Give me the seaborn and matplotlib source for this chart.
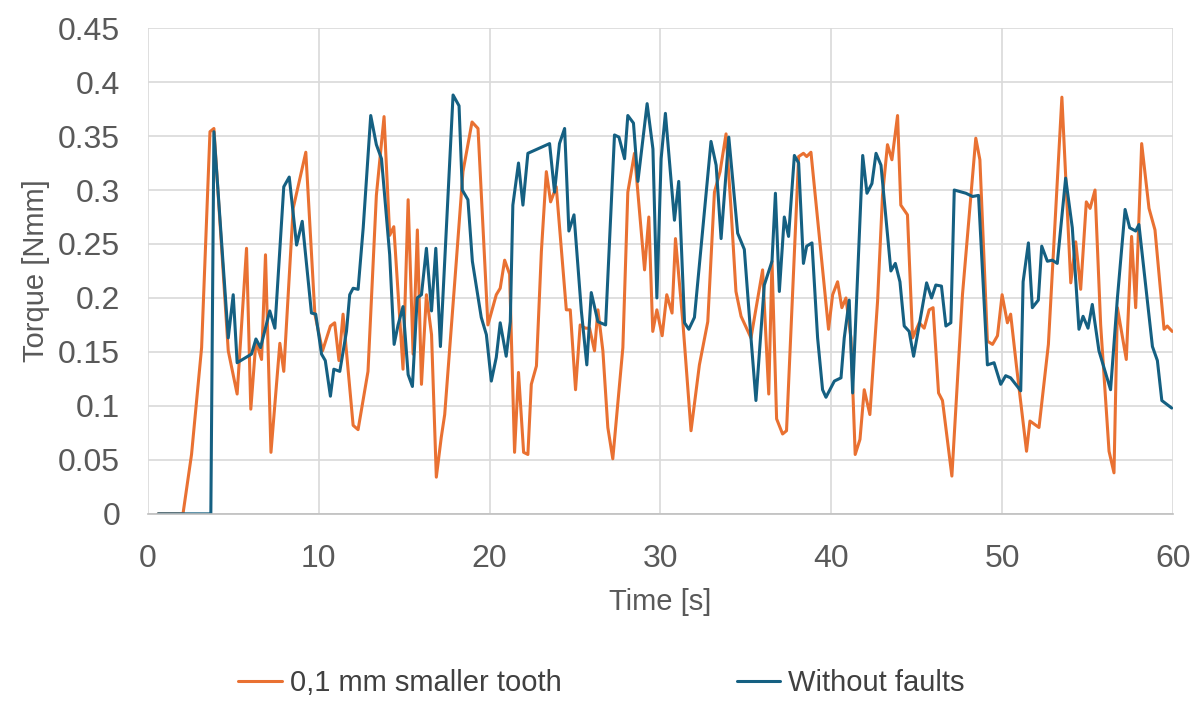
import matplotlib
matplotlib.use('Agg')
import matplotlib.pyplot as plt
import seaborn as sns
import pandas as pd
from matplotlib.lines import Line2D

sns.set_style("white")
plt.rcParams['font.family'] = ['Liberation Sans', 'DejaVu Sans']

# 0,1 mm smaller tooth
t_fault = [0.6, 2.05, 2.55, 3.14, 3.63, 3.86, 4.70, 5.22, 5.77, 6.02, 6.32, 6.65, 6.88, 7.2, 7.72, 7.95,
           8.5, 9.24, 9.77, 10.22, 10.68, 10.93, 11.18, 11.42, 12.01, 12.3, 12.88, 13.37, 13.82, 14.15,
           14.39, 14.93, 15.23, 15.52, 15.77, 16.01, 16.3, 16.6, 16.88, 17.17, 17.37, 18.05, 18.44, 18.97,
           19.32, 19.9, 20.39, 20.62, 20.88, 21.17, 21.46, 21.69, 21.99, 22.24, 22.44, 22.74, 23.03, 23.32,
           23.57, 23.9, 24.49, 24.72, 25.03, 25.3, 25.61, 25.85, 26.14, 26.34, 26.63, 26.92, 27.21, 27.8,
           28.09, 28.48, 29.07, 29.32, 29.55, 29.79, 30.1, 30.37, 30.68, 30.88, 31.31, 31.79, 32.28, 32.77,
           33.16, 33.49, 33.84, 34.13, 34.42, 34.72, 35.3, 35.98, 36.34, 36.53, 36.8, 37.15, 37.38, 38.09,
           38.37, 38.56, 38.81, 39.84, 40.08, 40.37, 40.62, 40.86, 41.15, 41.4, 41.68, 41.93, 42.26, 42.71,
           43.0, 43.29, 43.55, 43.88, 44.07, 44.46, 44.76, 45.15, 45.44, 45.73, 45.96, 46.28, 46.51, 47.06,
           47.68, 48.46, 48.7, 49.14, 49.44, 49.73, 50.0, 50.31, 50.5, 50.84, 51.43, 51.63, 52.16, 52.71,
           53.5, 54.02, 54.31, 54.6, 54.93, 55.15, 55.44, 55.77, 56.26, 56.55, 56.75, 57.27, 57.58, 57.82,
           58.17, 58.6, 58.95, 59.48, 59.67, 59.96]
v_fault = [0, 0, 0.055, 0.154, 0.354, 0.357, 0.151, 0.111, 0.246, 0.097, 0.16, 0.143, 0.24, 0.057, 0.158, 0.132,
           0.283, 0.335, 0.185, 0.151, 0.174, 0.177, 0.142, 0.185, 0.082, 0.078, 0.132, 0.295, 0.368, 0.258,
           0.266, 0.134, 0.291, 0.148, 0.263, 0.12, 0.203, 0.166, 0.034, 0.071, 0.092, 0.234, 0.317, 0.363,
           0.357, 0.175, 0.203, 0.209, 0.235, 0.222, 0.057, 0.131, 0.057, 0.055, 0.12, 0.137, 0.243, 0.317,
           0.289, 0.303, 0.189, 0.189, 0.115, 0.175, 0.172, 0.172, 0.151, 0.189, 0.151, 0.08, 0.051, 0.154,
           0.298, 0.334, 0.226, 0.275, 0.169, 0.189, 0.165, 0.203, 0.186, 0.255, 0.178, 0.077, 0.138, 0.178,
           0.298, 0.317, 0.352, 0.283, 0.206, 0.183, 0.163, 0.226, 0.111, 0.234, 0.088, 0.074, 0.077, 0.331,
           0.334, 0.331, 0.335, 0.171, 0.203, 0.215, 0.191, 0.2, 0.163, 0.055, 0.069, 0.115, 0.092, 0.197,
           0.295, 0.342, 0.328, 0.369, 0.286, 0.277, 0.163, 0.177, 0.172, 0.189, 0.191, 0.112, 0.105, 0.035,
           0.203, 0.348, 0.328, 0.16, 0.157, 0.165, 0.203, 0.177, 0.185, 0.137, 0.058, 0.086, 0.08, 0.157,
           0.386, 0.214, 0.252, 0.208, 0.289, 0.283, 0.3, 0.175, 0.058, 0.038, 0.191, 0.143, 0.257, 0.191,
           0.343, 0.283, 0.263, 0.171, 0.174, 0.169]

# Without faults
t_ok = [0.6, 3.68, 3.86, 4.70, 4.99, 5.22, 6.06, 6.32, 6.59, 7.13, 7.43, 7.95, 8.27, 8.7, 9.03, 9.57, 9.82,
        10.16, 10.38, 10.68, 10.88, 11.23, 11.62, 11.81, 12.01, 12.3, 12.6, 13.04, 13.37, 13.67, 14.15, 14.41,
        14.64, 14.93, 15.23, 15.48, 15.76, 16.01, 16.3, 16.6, 16.85, 17.12, 17.86, 18.21, 18.4, 18.73, 18.99,
        19.51, 19.81, 20.1, 20.39, 20.62, 20.97, 21.21, 21.36, 21.69, 21.95, 22.24, 23.51, 23.8, 24.09, 24.39,
        24.64, 24.94, 25.37, 25.69, 25.95, 26.34, 26.79, 27.31, 27.57, 27.9, 28.09, 28.42, 28.68, 29.22, 29.56,
        29.79, 30.04, 30.29, 30.82, 31.07, 31.41, 31.66, 31.99, 32.96, 33.26, 33.55, 34.0, 34.52, 34.91, 35.3,
        35.59, 36.08, 36.53, 36.73, 36.96, 37.25, 37.5, 37.84, 38.09, 38.37, 38.56, 38.87, 39.2, 39.49, 39.69,
        40.18, 40.57, 40.76, 41.05, 41.25, 41.84, 42.09, 42.38, 42.62, 42.91, 43.49, 43.75, 44.02, 44.27, 44.56,
        44.82, 45.15, 45.58, 45.87, 46.12, 46.45, 46.71, 47.0, 47.2, 47.88, 48.27, 48.62, 49.14, 49.53, 49.92,
        50.21, 50.5, 51.09, 51.23, 51.54, 51.77, 52.12, 52.32, 52.65, 52.94, 53.23, 53.72, 54.11, 54.5, 54.74,
        55.03, 55.28, 55.67, 56.35, 56.75, 57.2, 57.47, 57.82, 58.01, 58.8, 59.09, 59.35, 59.93]
v_ok = [0, 0, 0.354, 0.163, 0.203, 0.14, 0.148, 0.162, 0.154, 0.188, 0.172, 0.303, 0.312, 0.249, 0.271, 0.186, 0.185,
        0.148, 0.142, 0.109, 0.134, 0.132, 0.169, 0.203, 0.209, 0.208, 0.265, 0.369, 0.342, 0.329, 0.24, 0.157,
        0.175, 0.192, 0.129, 0.118, 0.2, 0.203, 0.246, 0.188, 0.246, 0.155, 0.388, 0.378, 0.3, 0.291, 0.234,
        0.182, 0.166, 0.123, 0.145, 0.177, 0.146, 0.178, 0.286, 0.325, 0.286, 0.334, 0.343, 0.298, 0.343, 0.357,
        0.262, 0.277, 0.188, 0.138, 0.205, 0.178, 0.175, 0.351, 0.349, 0.329, 0.369, 0.362, 0.308, 0.38, 0.338,
        0.2, 0.329, 0.371, 0.272, 0.308, 0.177, 0.171, 0.182, 0.345, 0.323, 0.255, 0.349, 0.26, 0.245, 0.163,
        0.105, 0.212, 0.234, 0.297, 0.206, 0.275, 0.257, 0.332, 0.325, 0.232, 0.248, 0.251, 0.163, 0.115, 0.108,
        0.123, 0.126, 0.163, 0.198, 0.112, 0.332, 0.297, 0.306, 0.334, 0.323, 0.225, 0.232, 0.215, 0.174, 0.169,
        0.146, 0.175, 0.214, 0.2, 0.212, 0.211, 0.174, 0.177, 0.3, 0.297, 0.294, 0.295, 0.138, 0.14, 0.12,
        0.128, 0.126, 0.114, 0.215, 0.251, 0.191, 0.198, 0.248, 0.234, 0.235, 0.232, 0.311, 0.265, 0.171, 0.183,
        0.172, 0.194, 0.151, 0.115, 0.2, 0.282, 0.265, 0.262, 0.268, 0.155, 0.142, 0.105, 0.098]

series_names = ['0,1 mm smaller tooth', 'Without faults']
colors = {'0,1 mm smaller tooth': '#E97132', 'Without faults': '#156082'}
ytick_labels = ['0', '0.05', '0.1', '0.15', '0.2', '0.25', '0.3', '0.35', '0.4', '0.45']

df = pd.concat([
    pd.DataFrame({'time': t_fault, 'torque': v_fault, 'series': series_names[0]}),
    pd.DataFrame({'time': t_ok, 'torque': v_ok, 'series': series_names[1]}),
])

fig, ax = plt.subplots(figsize=(12.03, 7.02), dpi=100)
fig.subplots_adjust(left=0.123, right=0.975, top=0.960, bottom=0.268)

sns.lineplot(data=df, x='time', y='torque', hue='series', palette=colors,
             sort=False, estimator=None, linewidth=2.2, ax=ax, legend=False)

ax.set_xlim(0, 60)
ax.set_ylim(0, 0.45)
ax.set_xticks(range(0, 61, 10))
ax.set_yticks([i * 0.05 for i in range(10)])
ax.set_yticklabels(ytick_labels)
ax.grid(True, color='#D9D9D9', linewidth=1.2)
ax.set_axisbelow(True)
for s in ['top', 'right', 'left']:
    ax.spines[s].set_visible(False)
ax.spines['bottom'].set_color('#BFBFBF')
ax.spines['bottom'].set_linewidth(1.2)
ax.tick_params(axis='both', length=0, labelsize=23, colors='#595959')
ax.tick_params(axis='y', pad=20)
ax.tick_params(axis='x', pad=22)

ax.set_xlabel('Time [s]', fontsize=21, color='#595959', labelpad=10)
ax.set_ylabel('Torque [Nmm]', fontsize=21, color='#595959', labelpad=6)

handles = [Line2D([0], [0], color=colors[n], linewidth=2.2) for n in series_names]
fig.legend(handles, series_names, loc='center', bbox_to_anchor=(0.5, 0.027), ncol=2,
           frameon=False, handlelength=1.5, handletextpad=0.27, columnspacing=6,
           prop={'family': ['Liberation Sans', 'DejaVu Sans'], 'size': 21},
           labelcolor='#404040')

fig.savefig('out.png', dpi=100)
